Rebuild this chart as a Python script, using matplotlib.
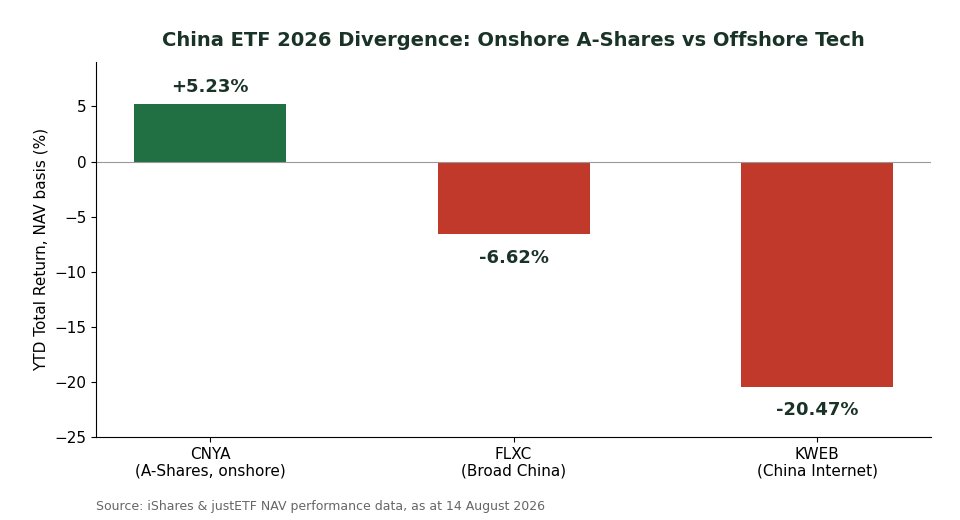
import matplotlib.pyplot as plt

labels = ['CNYA\n(A-Shares, onshore)', 'FLXC\n(Broad China)', 'KWEB\n(China Internet)']
returns = [5.23, -6.62, -20.47]
text_labels = ['+5.23%', '-6.62%', '-20.47%']

colors = ['#207044' if r > 0 else '#c0392b' for r in returns]

fig, ax = plt.subplots(figsize=(9.6, 5.2), dpi=100)
fig.subplots_adjust(left=0.1, right=0.97, top=0.88, bottom=0.16)

x = range(len(returns))
ax.bar(x, returns, width=0.5, color=colors)
ax.axhline(0, color='#999999', linewidth=0.8)

for xi, r, t in zip(x, returns, text_labels):
    if r > 0:
        ax.text(xi, r + 0.7, t, ha='center', va='bottom', fontsize=13,
                fontweight='bold', color='#1a3328')
    else:
        ax.text(xi, r - 1.3, t, ha='center', va='top', fontsize=13,
                fontweight='bold', color='#1a3328')

ax.set_xticks(list(x))
ax.set_xticklabels(labels, fontsize=11)
ax.set_ylim(-25, 9)
ax.set_yticks([-25, -20, -15, -10, -5, 0, 5])
ax.tick_params(axis='y', labelsize=11)
ax.set_ylabel('YTD Total Return, NAV basis (%)', fontsize=11)
ax.set_title('China ETF 2026 Divergence: Onshore A-Shares vs Offshore Tech',
             fontsize=14, fontweight='bold', color='#1a3328', pad=12)
ax.spines['top'].set_visible(False)
ax.spines['right'].set_visible(False)

fig.text(0.1, 0.02, 'Source: iShares & justETF NAV performance data, as at 14 August 2026',
         fontsize=9, color='#666666')

fig.savefig('out.png')
